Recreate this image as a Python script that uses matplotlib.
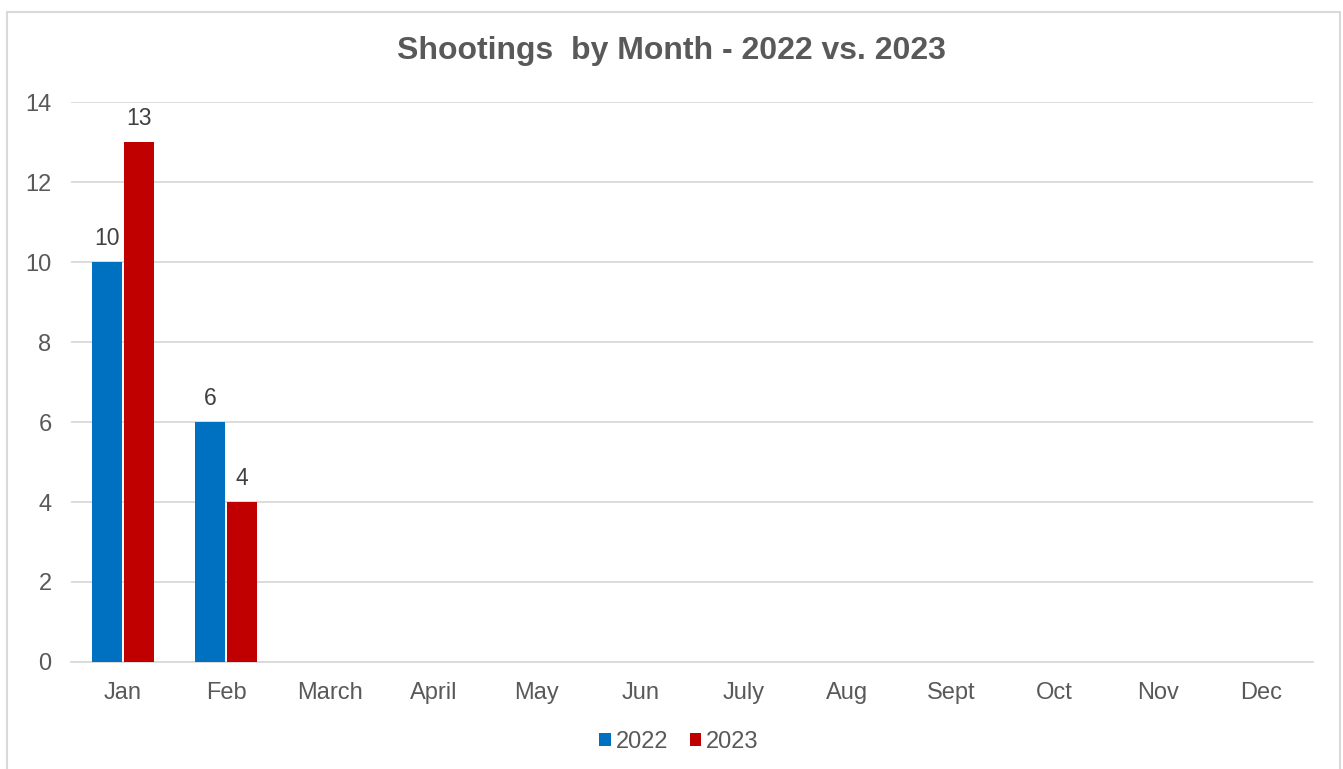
import matplotlib
matplotlib.use("Agg")
import matplotlib.pyplot as plt
from matplotlib.patches import Rectangle, Patch
import numpy as np

plt.rcParams['font.family'] = ['Liberation Sans', 'DejaVu Sans']

months = ["Jan", "Feb", "March", "April", "May", "Jun", "July", "Aug", "Sept", "Oct", "Nov", "Dec"]
vals_2022 = [10, 6]
vals_2023 = [13, 4]
series_names = ["2022", "2023"]
colors = ["#0070C0", "#C00000"]
yticks = [0, 2, 4, 6, 8, 10, 12, 14]

fig = plt.figure(figsize=(13.43, 7.69), dpi=100)
fig.patches.append(Rectangle((7/1343, -0.01), (1340-7)/1343, 1 - 12/769 + 0.01,
                             transform=fig.transFigure, fill=False,
                             edgecolor="#D9D9D9", linewidth=1.5))
ax = fig.add_axes([71/1343, 1 - 662/769, (1313-71)/1343, (662-102)/769])

x = np.arange(len(months))
w = 0.29
gap = 0.02
for i, (vals, col) in enumerate(zip([vals_2022, vals_2023], colors)):
    xs = x[:len(vals)] + (i - 0.5) * (w + gap)
    bars = ax.bar(xs, vals, width=w, color=col, zorder=3)
    for b, v in zip(bars, vals):
        ax.text(b.get_x() + b.get_width()/2, v + 0.3, str(v), ha="center", va="bottom",
                fontsize=16.5, color="#404040")

ax.set_xlim(-0.5, len(months) - 0.5)
ax.set_ylim(0, 14)
ax.set_yticks(yticks)
ax.set_xticks(x)
ax.set_xticklabels(months)
ax.tick_params(axis="both", length=0, labelsize=17, labelcolor="#595959")
ax.tick_params(axis="x", pad=14.5)
ax.tick_params(axis="y", pad=14)
ax.grid(axis="y", color="#D9D9D9", linewidth=1.3, zorder=0)
for s in ["top", "right", "left"]:
    ax.spines[s].set_visible(False)
ax.spines["bottom"].set_color("#D9D9D9")
ax.spines["bottom"].set_linewidth(1.3)

fig.text(0.5, 1 - 51/769, "Shootings  by Month - 2022 vs. 2023", ha="center", va="center",
         fontsize=23, fontweight="bold", color="#595959")

handles = [Patch(facecolor=c) for c in colors]
fig.legend(handles, series_names, loc="center", bbox_to_anchor=(679/1343, 1 - 742/769), ncol=2,
           frameon=False, fontsize=17, labelcolor="#595959", handlelength=0.5, handleheight=0.5,
           handletextpad=0.2, columnspacing=0.9)

fig.savefig("out.png", dpi=100)
